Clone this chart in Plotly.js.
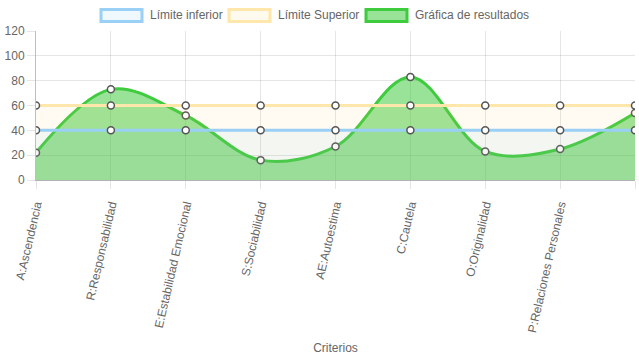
<!DOCTYPE html>
<html><head><meta charset="utf-8">
<script src="https://cdn.plot.ly/plotly-3.0.1.min.js"></script>
<style>html,body{margin:0;padding:0;background:#fff}#c{width:639px;height:360px}</style>
</head><body><div id="c"></div>
<script>
const categories = ["A:Ascendencia","R:Responsabilidad","E:Estabilidad Emocional","S:Sociabilidad","AE:Autoestima","C:Cautela","O:Originalidad","P:Relaciones Personales","V:Vigor"];
const limiteInferior = [40,40,40,40,40,40,40,40,40];
const limiteSuperior = [60,60,60,60,60,60,60,60,60];
const resultados = [22,73,52,16,27,83,23,25,54];
const seriesNames = ["Límite inferior","Límite Superior","Gráfica de resultados"];
const yTicks = [0,20,40,60,80,100,120];
const xTitle = "Criterios";

const lineColors = ["#9ad0f5","#ffe6aa","#3ecb3e"];
const fillColors = ["rgba(54,162,235,0.06)","rgba(255,205,86,0.08)","rgba(50,200,50,0.5)"];
const legendFill = ["rgba(54,162,235,0.08)","rgba(255,205,86,0.1)","rgba(50,200,50,0.5)"];
const marker = {size:7, color:"#fff", line:{color:"#555", width:1.5}};
const xIdx = categories.map((c,i)=>i);

function tr(y, k, shape){
  return {x:xIdx, y:y, name:seriesNames[k], type:"scatter", mode:"lines+markers",
    line:{color:lineColors[k], width:3, shape:shape, smoothing:1},
    fill:"tozeroy", fillcolor:fillColors[k], marker:marker, showlegend:false, hoverinfo:"skip"};
}
const data = [tr(resultados,2,"spline"), tr(limiteSuperior,1,"linear"), tr(limiteInferior,0,"linear")];

// custom Chart.js-style legend
const L=36, W=599, T=31, H=149;
const px = v => (v-L)/W, py = v => (180-v)/H;
const boxX = [101,229,366];
const shapes = [], annotations = [];
seriesNames.forEach((n,k)=>{
  shapes.push({type:"rect", xref:"paper", yref:"paper", x0:px(boxX[k]), x1:px(boxX[k]+41), y0:py(21.5), y1:py(9.5),
    line:{color:lineColors[k], width:3}, fillcolor:legendFill[k]});
  annotations.push({xref:"paper", yref:"paper", x:px(boxX[k]+47), y:py(15.5), xanchor:"left", yanchor:"middle",
    text:n, showarrow:false, font:{family:"Liberation Sans, Arial, sans-serif", size:12, color:"#666"}});
});

const layout = {
  width:639, height:360, margin:{l:36, r:4, t:31, b:180},
  paper_bgcolor:"#fff", plot_bgcolor:"#fff", showlegend:false,
  font:{family:"Liberation Sans, Arial, sans-serif", size:12, color:"#666"},
  xaxis:{range:[0,8], tickvals:xIdx, ticktext:categories, tickangle:-77, showgrid:true,
    gridcolor:"rgba(0,0,0,0.1)", ticks:"outside", ticklen:8, tickcolor:"rgba(0,0,0,0.1)",
    ticklabelstandoff:4,
    showline:true, linecolor:"rgba(0,0,0,0.3)", linewidth:1, zeroline:false,
    title:{text:xTitle, font:{size:12, color:"#666"}, standoff:10}, automargin:false},
  yaxis:{range:[0,120], tickvals:yTicks, showgrid:true, gridcolor:"rgba(0,0,0,0.1)",
    ticks:"outside", ticklen:8, tickcolor:"rgba(0,0,0,0.1)", showline:true,
    linecolor:"rgba(0,0,0,0.25)", zeroline:false, automargin:false},
  shapes:shapes, annotations:annotations
};
Plotly.newPlot("c", data, layout, {displayModeBar:false, staticPlot:true});
</script></body></html>
